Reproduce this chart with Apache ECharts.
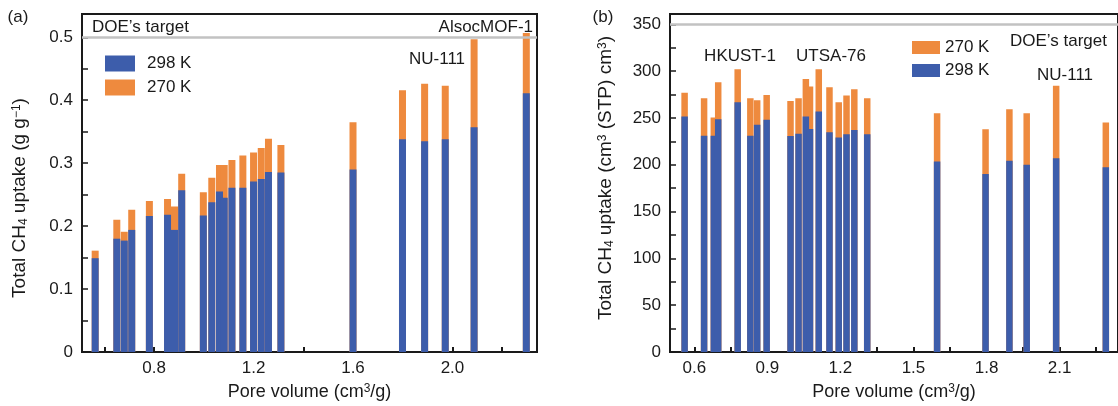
<!DOCTYPE html>
<html><head><meta charset="utf-8">
<script src="https://cdn.jsdelivr.net/npm/echarts@6/dist/echarts.min.js"></script>
<style>html,body{margin:0;padding:0;background:#fff}#c{width:1118px;height:406px}</style>
</head><body><div id="c"></div>
<script>
// ---- Panel (a): gravimetric uptake ----
const poreVolumeA = [0.563,0.650,0.680,0.710,0.781,0.854,0.882,0.911,0.998,1.032,1.063,1.082,1.113,1.157,1.200,1.231,1.260,1.310,1.600,1.799,1.888,1.971,2.087,2.297];
const uptakeA298 = [0.149,0.180,0.177,0.194,0.216,0.218,0.194,0.257,0.217,0.238,0.255,0.245,0.261,0.261,0.271,0.275,0.286,0.285,0.290,0.338,0.335,0.338,0.357,0.411];
const uptakeA270 = [0.161,0.210,0.191,0.226,0.240,0.243,0.231,0.283,0.254,0.277,0.297,0.297,0.305,0.312,0.317,0.324,0.339,0.329,0.365,0.416,0.426,0.423,0.497,0.507];
const xTicksA = [0.6,0.8,1.0,1.2,1.4,1.6,1.8,2.0,2.2];
const xLabelsA = [0.8,1.2,1.6,2.0];

// ---- Panel (b): volumetric uptake ----
const poreVolumeB = [0.560,0.640,0.680,0.698,0.778,0.830,0.858,0.897,0.995,1.028,1.058,1.075,1.111,1.155,1.193,1.225,1.257,1.310,1.597,1.796,1.894,1.965,2.086,2.290];
const uptakeB298 = [251.5,231,231,248.7,266.8,231,242.6,248,230.8,233,251.5,238.3,256.8,234.8,229,232.7,237.2,232.7,203.4,190,204.2,200,207,197.4];
const uptakeB270 = [277,271,250.4,288,302,271,269,274.6,268.2,271,291.7,283.5,302,282.8,266.8,273.9,280.7,271,255,238,259.3,255,284.5,245];
const xTicksB = [0.6,0.75,0.9,1.05,1.2,1.35,1.5,1.65,1.8,1.95,2.1,2.25];
const xLabelsB = [0.6,0.9,1.2,1.5,1.8,2.1];

const doeTarget = [0.5, 350];
const seriesNames = ['298 K','270 K'];

const FONT = "'Liberation Sans', Arial, sans-serif";
const BLUE = '#3d5dab', ORANGE = '#ee8a3e', INK = '#1a1a1a';

function barItem(w){
  return function(params, api){
    const x = api.value(0), y = api.value(1);
    const top = api.coord([x, y]), base = api.coord([x, 0]);
    return {type:'rect', shape:{x: top[0]-w/2, y: top[1], width: w, height: base[1]-top[1]}, style: api.style()};
  };
}
const rich = {
  sub:{fontSize:12, verticalAlign:'bottom', lineHeight:12, fontFamily:FONT, color:INK, fill:INK},
  sup:{fontSize:12, verticalAlign:'top', lineHeight:12, fontFamily:FONT, color:INK, fill:INK}
};
function xAxisDef(gi, min, max, ticks, labels){
  return {gridIndex:gi, type:'value', min:min, max:max,
    axisLine:{lineStyle:{color:INK, width:2}},
    axisTick:{inside:true, length:5, customValues:ticks, lineStyle:{color:INK, width:2}},
    axisLabel:{customValues:labels, formatter:v=>v.toFixed(1), fontSize:17, color:INK, fontFamily:FONT, margin:8},
    splitLine:{show:false},
    name:'Pore volume (cm{sup|3}/g)', nameLocation:'middle', nameGap:31,
    nameTextStyle:{fontSize:18, color:INK, fontFamily:FONT, rich:rich}};
}
function yAxisDef(gi, max, interval, fmt){
  return {gridIndex:gi, type:'value', min:0, max:max, interval:interval,
    axisLine:{show:true, lineStyle:{color:INK, width:2}},
    axisTick:{inside:true, length:6, lineStyle:{color:INK, width:1.5}},
    minorTick:{show:true, splitNumber:2, length:6, lineStyle:{color:INK, width:1.5}},
    axisLabel:{formatter:fmt, showMaxLabel:false, fontSize:17, color:INK, fontFamily:FONT, margin:9},
    splitLine:{show:false}};
}
function mkSeries(name, xi, xs, ys, color, w, doe){
  const s = {type:'custom', name:name, xAxisIndex:xi, yAxisIndex:xi,
    data: xs.map((x,i)=>[x, ys[i]]), encode:{x:0, y:1},
    renderItem: barItem(w), itemStyle:{color:color}, silent:true};
  if (doe != null) {
    s.markLine = {silent:true, symbol:'none', label:{show:false},
      lineStyle:{color:'#c2c2c2', width:2.5, type:'solid'}, data:[{yAxis:doe}]};
  }
  return s;
}
function txt(t, x, y, align){
  return {type:'text', x:x, y:y, style:{text:t, fontSize:17, fontFamily:FONT, fill:INK, align:align||'center', verticalAlign:'middle'}};
}
function vtxt(t, x, y){
  return {type:'text', x:x, y:y, rotation:Math.PI/2,
    style:{text:t, fontSize:19, fontFamily:FONT, fill:INK, align:'center', verticalAlign:'middle', rich:rich}};
}

const chart = echarts.init(document.getElementById('c'), null, {renderer:'canvas'});
chart.setOption({
  animation:false,
  textStyle:{fontFamily:FONT},
  grid:[
    {left:82, top:14, width:455, height:338.5, show:true, borderColor:INK, borderWidth:2, backgroundColor:'transparent'},
    {left:670, top:14, width:458, height:338.5, show:true, borderColor:INK, borderWidth:2, backgroundColor:'transparent'}
  ],
  xAxis:[ xAxisDef(0, 0.51, 2.34, xTicksA, xLabelsA), xAxisDef(1, 0.5, 2.34, xTicksB, xLabelsB) ],
  yAxis:[
    yAxisDef(0, 0.537, 0.1, v=> v===0 ? '0' : v.toFixed(1)),
    yAxisDef(1, 361, 50, v=> String(v))
  ],
  legend:[
    {left:100, top:50, orient:'vertical', icon:'rect', itemWidth:30, itemHeight:16, itemGap:7,
     data:[seriesNames[0], seriesNames[1]], textStyle:{fontSize:17, color:INK, fontFamily:FONT, padding:[0,0,0,7]}, selectedMode:false},
    {left:907, top:34, orient:'vertical', icon:'rect', itemWidth:28, itemHeight:13, itemGap:6,
     data:[seriesNames[1], seriesNames[0]], textStyle:{fontSize:17, color:INK, fontFamily:FONT}, selectedMode:false}
  ],
  series:[
    mkSeries(seriesNames[1], 0, poreVolumeA, uptakeA270, ORANGE, 7, doeTarget[0]),
    mkSeries(seriesNames[0], 0, poreVolumeA, uptakeA298, BLUE, 7),
    mkSeries(seriesNames[1], 1, poreVolumeB, uptakeB270, ORANGE, 6.5, doeTarget[1]),
    mkSeries(seriesNames[0], 1, poreVolumeB, uptakeB298, BLUE, 6.5)
  ],
  graphic:[
    txt('(a)', 18, 17),
    txt('(b)', 603, 17),
    vtxt('Total CH{sub|4} uptake (g g{sup|−1})', 20, 198),
    vtxt('Total CH{sub|4} uptake (cm{sup|3} (STP) cm{sup|3})', 606, 178),
    txt('DOE’s target', 92, 27, 'left'),
    txt('AlsocMOF-1', 533, 27, 'right'),
    txt('NU-111', 437, 59),
    txt('HKUST-1', 740, 56),
    txt('UTSA-76', 831, 56),
    txt('DOE’s target', 1010, 41, 'left'),
    txt('NU-111', 1065, 75)
  ]
});
</script></body></html>
